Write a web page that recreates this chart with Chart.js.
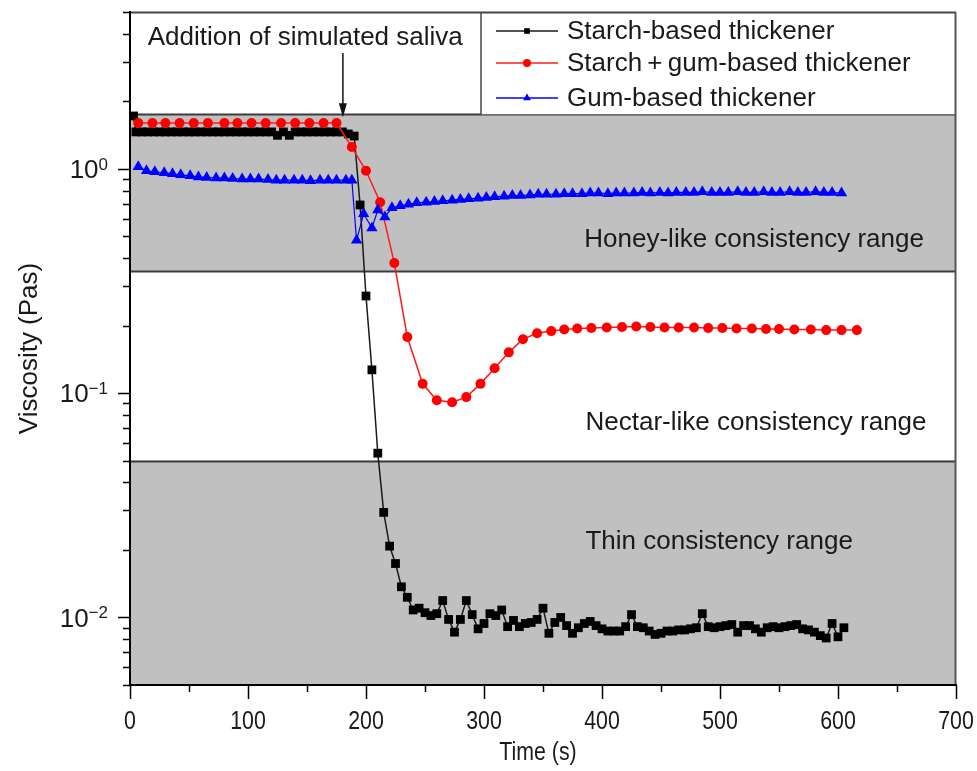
<!DOCTYPE html>
<html>
<head>
<meta charset="utf-8">
<title>Viscosity after addition of simulated saliva</title>
<script src="https://cdn.jsdelivr.net/npm/chart.js@4.4.1/dist/chart.umd.min.js"></script>
<style>
  html, body { margin: 0; padding: 0; background: #fff; }
  #wrap { width: 977px; height: 771px; }
</style>
</head>
<body>
<div id="wrap"><canvas id="chart" width="977" height="771"></canvas></div>
<script>
const seriesNames = ['Starch-based thickener', 'Starch\u2009+\u2009gum-based thickener', 'Gum-based thickener'];
const xTicks = [0, 100, 200, 300, 400, 500, 600, 700];
const yTickExp = [-2, -1, 0];
const bandLimits = [0.005, 0.05, 0.35, 1.75, 5];
const bandNames = ['Thin consistency range', 'Nectar-like consistency range', 'Honey-like consistency range'];

// starch-based thickener, time (s) / viscosity (Pa s)
const starchTime = [3,
  5, 10, 15, 20, 25, 30, 35, 40, 45, 50,
  55, 60, 65, 70, 75, 80, 85, 90, 95, 100,
  105, 110, 115, 120, 125, 130, 135, 140, 145, 150,
  155, 160, 165, 170, 175, 180,
  185, 190, 195, 200, 205, 210, 215, 220, 225, 230,
  235, 240, 245, 250, 255, 260, 265, 270, 275, 280,
  285, 290, 295, 300, 305, 310, 315, 320, 325, 330,
  335, 340, 345, 350, 355, 360, 365, 370, 375, 380,
  385, 390, 395, 400, 405, 410, 415, 420, 425, 430,
  435, 440, 445, 450, 455, 460, 465, 470, 475, 480,
  485, 490, 495, 500, 505, 510, 515, 520, 525, 530,
  535, 540, 545, 550, 555, 560, 565, 570, 575, 580,
  585, 590, 595, 600, 605];
const starchVisc = [1.72,
  1.46, 1.46, 1.46, 1.46, 1.46, 1.46, 1.46, 1.46, 1.46, 1.46,
  1.46, 1.46, 1.46, 1.46, 1.46, 1.46, 1.46, 1.46, 1.46, 1.46,
  1.46, 1.46, 1.46, 1.46, 1.41, 1.46, 1.41, 1.46, 1.46, 1.46,
  1.46, 1.46, 1.46, 1.46, 1.46, 1.46,
  1.43, 1.40, 0.69, 0.271, 0.127, 0.054, 0.0294, 0.0208, 0.0174, 0.0137,
  0.0123, 0.0108, 0.0110, 0.0105, 0.0102, 0.0104, 0.0119, 0.0098, 0.0086, 0.0098,
  0.0119, 0.0103, 0.0089, 0.0094, 0.0104, 0.0102, 0.0108, 0.0091, 0.0097, 0.0091,
  0.0094, 0.0095, 0.0098, 0.0110, 0.0085, 0.0095, 0.0100, 0.0092, 0.0085, 0.0090,
  0.0094, 0.0096, 0.0092, 0.0089, 0.0087, 0.0087, 0.0087, 0.0091, 0.0103, 0.0091,
  0.0090, 0.0087, 0.0084, 0.0085, 0.0087, 0.0087, 0.0088, 0.0088, 0.0089, 0.0090,
  0.0104, 0.0091, 0.0090, 0.0091, 0.0092, 0.0093, 0.0086, 0.0092, 0.0092, 0.0089,
  0.0086, 0.0090, 0.0091, 0.0090, 0.0091, 0.0092, 0.0093, 0.0089, 0.0088, 0.0086,
  0.0083, 0.0081, 0.0094, 0.0082, 0.0090];

// starch + gum-based thickener
const mixTime = [7, 19, 30, 42, 54, 66, 80, 91, 103, 115, 128, 140, 152, 164, 175,
  188, 200, 212, 224, 235, 248, 260, 273, 285, 297, 309, 321, 333, 345, 357,
  368, 379, 391, 404, 417, 429, 441, 453, 465, 478, 490, 502, 514, 527, 539, 550, 563, 577, 590, 603, 616];
const mixVisc = [1.60, 1.60, 1.60, 1.60, 1.60, 1.60, 1.60, 1.60, 1.60, 1.60, 1.60, 1.60, 1.60, 1.60, 1.60,
  1.25, 0.98, 0.71, 0.38, 0.178, 0.110, 0.093, 0.091, 0.096, 0.110, 0.129, 0.152, 0.174, 0.185, 0.189,
  0.192, 0.194, 0.195, 0.196, 0.197, 0.198, 0.197, 0.196, 0.196, 0.196, 0.195, 0.195, 0.194, 0.194, 0.193, 0.193, 0.192, 0.192, 0.191, 0.191, 0.191];

// gum-based thickener
const gumTime = [7, 14, 21, 29, 36, 43, 51, 58, 65, 73,
  80, 87, 95, 102, 109, 117, 124, 131, 139, 146,
  153, 161, 168, 175, 183, 188,
  192, 198, 205, 210,
  216, 222, 229, 236, 243, 251, 258, 265, 273, 280,
  287, 295, 302, 309, 317, 324, 331, 339, 346, 353,
  361, 368, 375, 383, 390, 397, 405, 412, 419, 427,
  434, 441, 449, 456, 463, 471, 478, 485, 493, 500,
  507, 515, 522, 529, 537, 544, 551, 559, 566, 573,
  581, 588, 595, 603];
const gumVisc = [1.02, 0.98, 0.97, 0.96, 0.95, 0.94, 0.93, 0.92, 0.915, 0.91,
  0.91, 0.905, 0.90, 0.90, 0.90, 0.895, 0.89, 0.89, 0.89, 0.89,
  0.885, 0.89, 0.89, 0.89, 0.89, 0.89,
  0.48, 0.63, 0.545, 0.655,
  0.61, 0.67, 0.685, 0.695, 0.705, 0.71, 0.715, 0.72, 0.725, 0.73,
  0.735, 0.74, 0.745, 0.75, 0.755, 0.76, 0.76, 0.765, 0.77, 0.77,
  0.77, 0.775, 0.775, 0.775, 0.78, 0.78, 0.775, 0.78, 0.78, 0.78,
  0.785, 0.78, 0.785, 0.78, 0.785, 0.785, 0.785, 0.79, 0.785, 0.785,
  0.785, 0.79, 0.785, 0.785, 0.79, 0.785, 0.785, 0.79, 0.785, 0.785,
  0.79, 0.785, 0.785, 0.78];

const FONT = "'Liberation Sans', Arial, Helvetica, sans-serif";
const TEXT = '#1a1a1a';
const BAND_GREY = '#c0c0c0';

function points(xs, ys) {
  return xs.map((t, i) => ({ x: t, y: ys[i] }));
}

function narrowText(ctx, text, x, y, sx) {
  ctx.save();
  ctx.translate(x, y);
  ctx.scale(sx, 1);
  ctx.fillText(text, 0, 0);
  ctx.restore();
}

function hline(ctx, x0, x1, y) {
  ctx.beginPath();
  ctx.moveTo(x0, y);
  ctx.lineTo(x1, y);
  ctx.stroke();
}

function vline(ctx, x, y0, y1) {
  ctx.beginPath();
  ctx.moveTo(x, y0);
  ctx.lineTo(x, y1);
  ctx.stroke();
}

const scenery = {
  id: 'scenery',
  beforeDatasetsDraw(chart) {
    const { ctx, chartArea: a, scales: { x, y } } = chart;
    ctx.save();
    ctx.fillStyle = BAND_GREY;
    // thin and honey-like ranges are shaded
    [[bandLimits[0], bandLimits[1]], [bandLimits[2], bandLimits[3]]].forEach(([lo, hi]) => {
      const top = y.getPixelForValue(hi);
      const bot = y.getPixelForValue(lo);
      ctx.fillRect(a.left, top, a.right - a.left, bot - top);
    });
    ctx.strokeStyle = '#3c3c3c';
    ctx.lineWidth = 2;
    bandLimits.slice(1, 4).forEach(v => hline(ctx, a.left, a.right, Math.round(y.getPixelForValue(v)) + 0.5));

    ctx.fillStyle = TEXT;
    ctx.font = '26px ' + FONT;
    ctx.textAlign = 'left';
    ctx.textBaseline = 'middle';
    ctx.fillText(bandNames[2], x.getPixelForValue(385), y.getPixelForValue(0.48));
    ctx.fillText(bandNames[1], x.getPixelForValue(386), y.getPixelForValue(0.0735));
    ctx.fillText(bandNames[0], x.getPixelForValue(386), y.getPixelForValue(0.0218));
    ctx.restore();
  },
  afterDatasetsDraw(chart) {
    const { ctx, chartArea: a, scales: { x, y } } = chart;
    ctx.save();

    // legend box
    const bx = a.right - 475;
    const bTop = a.top;
    const bBot = y.getPixelForValue(bandLimits[3]);
    ctx.fillStyle = '#fff';
    ctx.fillRect(bx, bTop, a.right - bx, bBot - bTop);
    ctx.strokeStyle = '#444';
    ctx.lineWidth = 1.5;
    vline(ctx, bx, bTop, bBot);
    const rows = [19, 51, 86];
    const ds = chart.data.datasets;
    rows.forEach((dy, i) => {
      const ry = bTop + dy;
      const d = ds[i];
      ctx.strokeStyle = d.borderColor;
      ctx.lineWidth = 1.5;
      hline(ctx, bx + 15, bx + 77, ry);
      ctx.fillStyle = d.pointBackgroundColor;
      Chart.helpers.drawPoint(ctx, { pointStyle: d.pointStyle, radius: d.pointStyle === 'triangle' ? 4.5 : 4, rotation: 0, borderWidth: 0 }, bx + 46, ry);
      ctx.fillStyle = TEXT;
      ctx.font = '26px ' + FONT;
      ctx.textAlign = 'left';
      ctx.textBaseline = 'middle';
      ctx.fillText(seriesNames[i], bx + 86, ry + 1);
    });

    // annotation with arrow
    ctx.fillStyle = TEXT;
    ctx.font = '26px ' + FONT;
    ctx.textAlign = 'left';
    ctx.textBaseline = 'middle';
    ctx.fillText('Addition of simulated saliva', x.getPixelForValue(15), 38);
    const ax = x.getPixelForValue(180) + 0.5;
    const tip = y.getPixelForValue(bandLimits[3]) + 3;
    ctx.strokeStyle = '#111';
    ctx.lineWidth = 1.5;
    vline(ctx, ax, 53, tip - 8);
    ctx.fillStyle = '#111';
    ctx.beginPath();
    ctx.moveTo(ax - 4, tip - 14);
    ctx.lineTo(ax + 4, tip - 14);
    ctx.lineTo(ax, tip);
    ctx.closePath();
    ctx.fill();

    // frame
    ctx.strokeStyle = '#444';
    ctx.lineWidth = 2;
    hline(ctx, a.left, a.right, a.top + 0.5);
    ctx.strokeStyle = '#555';
    vline(ctx, a.right - 0.5, a.top, a.bottom);
    ctx.strokeStyle = '#000';
    vline(ctx, a.left, a.top - 1, a.bottom + 1);
    hline(ctx, a.left - 1, a.right + 1, a.bottom);

    // y ticks
    ctx.lineWidth = 1.5;
    for (let e = -3; e <= 0; e++) {
      for (let k = 1; k <= 9; k++) {
        const v = k * Math.pow(10, e);
        if (v < 0.0049 || v > 5.01) continue;
        const py = Math.round(y.getPixelForValue(v)) + 0.5;
        hline(ctx, a.left - (k === 1 ? 12 : 7), a.left, py);
      }
    }
    // x ticks
    for (let t = 0; t <= 700; t += 50) {
      const px = Math.round(x.getPixelForValue(t)) + 0.5;
      vline(ctx, px, a.bottom, a.bottom + (t % 100 === 0 ? 14 : 7));
    }

    // tick labels
    ctx.fillStyle = TEXT;
    ctx.textBaseline = 'middle';
    ctx.textAlign = 'center';
    ctx.font = '26px ' + FONT;
    xTicks.forEach(t => narrowText(ctx, String(t), x.getPixelForValue(t), a.bottom + 37, 0.82));

    const right = a.left - 22;
    yTickExp.forEach(e => {
      const py = y.getPixelForValue(Math.pow(10, e));
      const sup = e === 0 ? '0' : '\u2212' + Math.abs(e);
      ctx.font = '17px ' + FONT;
      const supW = ctx.measureText(sup).width;
      ctx.textAlign = 'left';
      ctx.textBaseline = 'alphabetic';
      ctx.fillText(sup, right - supW, py + 1);
      ctx.font = '26px ' + FONT;
      ctx.textAlign = 'right';
      ctx.textBaseline = 'middle';
      ctx.fillText('10', right - supW, py + 2);
    });

    // axis titles
    ctx.font = '26px ' + FONT;
    ctx.textAlign = 'center';
    ctx.textBaseline = 'middle';
    narrowText(ctx, 'Time (s)', (a.left + a.right) / 2 - 5, a.bottom + 68, 0.82);
    ctx.save();
    ctx.translate(30, (a.top + a.bottom) / 2);
    ctx.rotate(-Math.PI / 2);
    ctx.fillText('Viscosity (Pas)', 0, 0);
    ctx.restore();

    ctx.restore();
  }
};

new Chart(document.getElementById('chart'), {
  type: 'line',
  data: {
    datasets: [
      {
        label: seriesNames[0],
        data: points(starchTime, starchVisc),
        borderColor: '#1a1a1a',
        borderWidth: 1.5,
        pointStyle: 'rect',
        pointRadius: 6.2,
        pointBackgroundColor: '#000',
        pointBorderWidth: 0,
        order: 3
      },
      {
        label: seriesNames[1],
        data: points(mixTime, mixVisc),
        borderColor: '#ff1a1a',
        borderWidth: 1.5,
        pointStyle: 'circle',
        pointRadius: 5,
        pointBackgroundColor: '#ff0000',
        pointBorderWidth: 0,
        order: 2
      },
      {
        label: seriesNames[2],
        data: points(gumTime, gumVisc),
        borderColor: '#0000ff',
        borderWidth: 1.2,
        pointStyle: 'triangle',
        pointRadius: 6.5,
        pointBackgroundColor: '#0000ff',
        pointBorderWidth: 0,
        order: 1
      }
    ]
  },
  options: {
    responsive: false,
    animation: false,
    devicePixelRatio: 1,
    layout: { padding: { left: 0, top: 12, right: 21, bottom: 0 } },
    plugins: { legend: { display: false }, tooltip: { enabled: false } },
    elements: { line: { tension: 0 } },
    scales: {
      x: {
        type: 'linear', min: 0, max: 700,
        grid: { display: false }, border: { display: false }, ticks: { display: false },
        afterFit(s) { s.height = 86; }
      },
      y: {
        type: 'logarithmic', min: 0.005, max: 5,
        grid: { display: false }, border: { display: false }, ticks: { display: false },
        afterFit(s) { s.width = 130; }
      }
    }
  },
  plugins: [scenery]
});
</script>
</body>
</html>
